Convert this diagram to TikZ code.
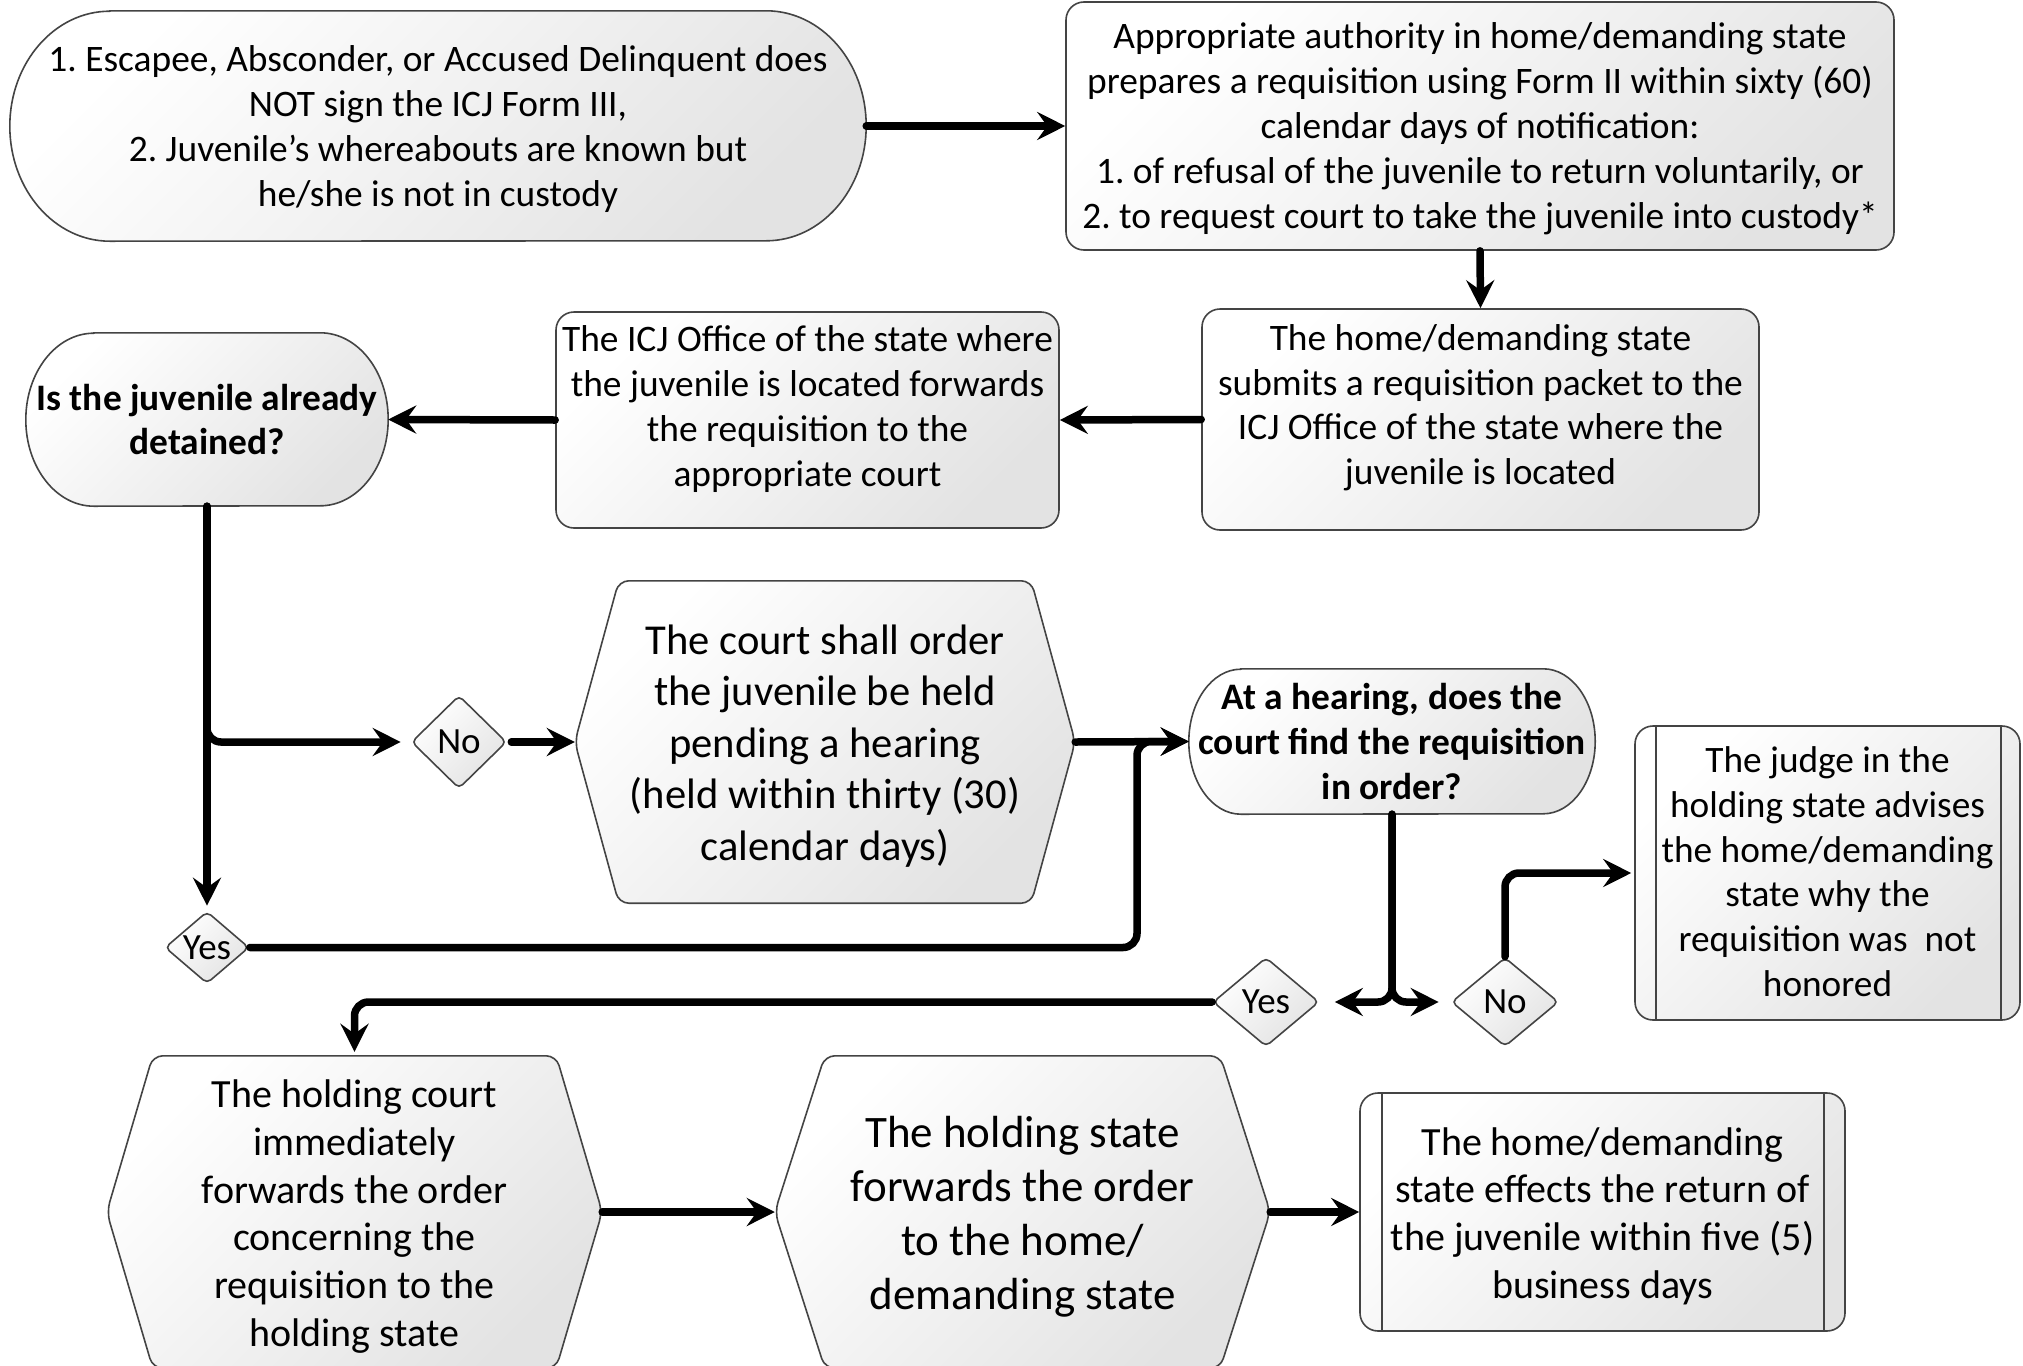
\documentclass[tikz,border=0pt]{standalone}
\usepackage{fontspec}
\setmainfont{Carlito}
\frenchspacing
\usetikzlibrary{shapes.geometric,arrows.meta}
\pgfdeclarelayer{bg}
\pgfsetlayers{bg,main}
\definecolor{edgegray}{HTML}{444444}
\definecolor{shadeend}{HTML}{E3E3E3}
\newcommand{\liftup}[2]{\raisebox{#1}[\height][\depth]{\begin{tabular}{@{}c@{}}#2\end{tabular}}}
\tikzset{
  ff/.style={top color=white,middle color=white,bottom color=shadeend,shading angle=45},
  frame/.style={ff,draw=edgegray,line width=1.6pt},
  txt/.style={align=center,inner sep=0pt,text=black},
  box/.style={txt,frame,rounded corners=18pt,rectangle},
  plain/.style={txt,rectangle},
  dia/.style={txt,frame,diamond,rounded corners=5pt,font=\fontsize{37}{44}\selectfont},
  fA/.style={font=\fontsize{37.4}{44.8}\selectfont},
  fB/.style={font=\bfseries\fontsize{37.4}{44.8}\selectfont},
  innerline/.style={draw=edgegray,line width=1.6pt},
  con/.style={line width=7.5pt,line cap=round,rounded corners=14pt,-{Stealth[length=28pt,width=28pt,inset=10pt]}},
}
\begin{document}
\begin{tikzpicture}[x=1pt,y=-1pt]
\useasboundingbox (0,0) rectangle (2023,1365);
\begin{pgfonlayer}{bg}
\fill[white] (0,0) rectangle (2023,1365);
\end{pgfonlayer}

% nodes
\node[plain,fA,minimum width=856pt,minimum height=230pt] (start) at (438,126)
 {\liftup{-4pt}{1. Escapee, Absconder, or Accused Delinquent does\\NOT sign the ICJ Form III,\\2. Juvenile’s whereabouts are known but\\he/she is not in custody}};
\node[box,fA,minimum width=828pt,minimum height=248pt] (req) at (1480,126)
 {\liftup{-3.5pt}{Appropriate authority in home/demanding state\\prepares a requisition using Form II within sixty (60)\\calendar days of notification:\\1. of refusal of the juvenile to return voluntarily, or\\2. to request court to take the juvenile into custody*}};
\node[box,fA,minimum width=557pt,minimum height=221pt] (sub) at (1480.5,419.5)
 {\liftup{11pt}{The home/demanding state\\submits a requisition packet to the\\ICJ Office of the state where the\\juvenile is located}};
\node[box,fA,minimum width=503pt,minimum height=216pt] (icj) at (807.5,420)
 {\liftup{10pt}{The ICJ Office of the state where\\the juvenile is located forwards\\the requisition to the\\appropriate court}};
\node[plain,fB,minimum width=362pt,minimum height=173pt] (det) at (207,419.5)
 {Is the juvenile already\\detained?};
\node[plain,font=\fontsize{42.6}{51.6}\selectfont,minimum width=500pt,minimum height=322pt] (hold) at (825,742)
 {\liftup{-5pt}{The court shall order\\the juvenile be held\\pending a hearing\\(held within thirty (30)\\calendar days)}};
\node[plain,fB,minimum width=406pt,minimum height=145pt] (hearing) at (1392,741.5)
 {At a hearing, does the\\court find the requisition\\in order?};
\node[dia,aspect=1.02,minimum width=95pt,minimum height=93pt] (no1) at (459,742) {No};
\node[dia,aspect=1.17,minimum width=84pt,minimum height=72pt] (yes1) at (207,947.5) {Yes};
\node[dia,aspect=1.2,minimum width=106pt,minimum height=89pt] (yes2) at (1266,1002) {Yes};
\node[dia,aspect=1.2,minimum width=107pt,minimum height=89pt] (no2) at (1505,1002) {No};
\node[box,font=\fontsize{37.3}{44.9}\selectfont,minimum width=385pt,minimum height=294pt] (judge) at (1827.5,873)
 {\liftup{-2.5pt}{The judge in the\\holding state advises\\the home/demanding\\state why the\\requisition was\ \ not\\honored}};
\node[plain,font=\fontsize{40}{47.7}\selectfont,minimum width=495pt,minimum height=312pt] (court) at (354.5,1212)
 {\liftup{-5.5pt}{The holding court\\immediately\\forwards the order\\concerning the\\requisition to the\\holding state}};
\node[plain,font=\fontsize{45}{54}\selectfont,minimum width=495pt,minimum height=312pt] (fwd) at (1022.5,1212)
 {\liftup{-5.5pt}{The holding state\\forwards the order\\to the home/\\demanding state}};
\node[box,font=\fontsize{40}{47.7}\selectfont,minimum width=485pt,minimum height=238pt] (ret) at (1602.5,1212)
 {\liftup{-5pt}{The home/demanding\\state effects the return of\\the juvenile within five (5)\\business days}};

% inner lines of predefined-process boxes
\draw[innerline] ([xshift=22pt]judge.north west) -- ([xshift=22pt]judge.south west);
\draw[innerline] ([xshift=-20pt]judge.north east) -- ([xshift=-20pt]judge.south east);
\draw[innerline] ([xshift=23pt]ret.north west) -- ([xshift=23pt]ret.south west);
\draw[innerline] ([xshift=-22pt]ret.north east) -- ([xshift=-22pt]ret.south east);

% shapes drawn behind the text
\begin{pgfonlayer}{bg}
\path[frame] ([xshift=100pt]start.north west) -- ([xshift=-100pt]start.north east)
  arc[start angle=90,end angle=-90,x radius=100pt,y radius=115pt]
  -- ([xshift=100pt]start.south west)
  arc[start angle=270,end angle=90,x radius=100pt,y radius=115pt] -- cycle;
\path[frame] ([xshift=68pt]det.north west) -- ([xshift=-68pt]det.north east)
  arc[start angle=90,end angle=-90,x radius=68pt,y radius=86.5pt]
  -- ([xshift=68pt]det.south west)
  arc[start angle=270,end angle=90,x radius=68pt,y radius=86.5pt] -- cycle;
\path[frame] ([xshift=52pt]hearing.north west) -- ([xshift=-52pt]hearing.north east)
  arc[start angle=90,end angle=-90,x radius=52pt,y radius=72.5pt]
  -- ([xshift=52pt]hearing.south west)
  arc[start angle=270,end angle=90,x radius=52pt,y radius=72.5pt] -- cycle;
\path[frame,rounded corners=10pt] (hold.west) -- ([xshift=44pt]hold.north west) -- ([xshift=-44pt]hold.north east)
  -- (hold.east) -- ([xshift=-44pt]hold.south east) -- ([xshift=44pt]hold.south west) -- cycle;
\path[frame,rounded corners=10pt] (court.west) -- ([xshift=46pt]court.north west) -- ([xshift=-46pt]court.north east)
  -- (court.east) -- ([xshift=-46pt]court.south east) -- ([xshift=46pt]court.south west) -- cycle;
\path[frame,rounded corners=10pt] (fwd.west) -- ([xshift=50pt]fwd.north west) -- ([xshift=-50pt]fwd.north east)
  -- (fwd.east) -- ([xshift=-50pt]fwd.south east) -- ([xshift=50pt]fwd.south west) -- cycle;
\end{pgfonlayer}

% connectors
\coordinate (j1) at (1137,850);
\draw[con] (start.east) -- (req.west);
\draw[con] (req.south) -- (sub.north);
\draw[con] (sub.west) -- (icj.east);
\draw[con] (icj.west) -- (det.east);
\draw[con,shorten >=5pt] (det.south) -- (yes1.north);
\draw[con,shorten >=10pt] (det.south) |- (no1.west);
\draw[con,shorten <=4pt] (no1.east) -- (hold.west);
\draw[con] (hold.east) -- (hearing.west);
\draw[con] (yes1.east) -| (j1) |- (hearing.west);
\draw[con,shorten >=15pt] (hearing.south) |- (yes2.east);
\draw[con,shorten >=12pt] (hearing.south) |- (no2.west);
\draw[con,shorten >=3pt] (no2.north) |- (judge.west);
\draw[con,shorten >=4pt] (yes2.west) -| (court.north);
\draw[con] (court.east) -- (fwd.west);
\draw[con] (fwd.east) -- (ret.west);
\end{tikzpicture}
\end{document}
